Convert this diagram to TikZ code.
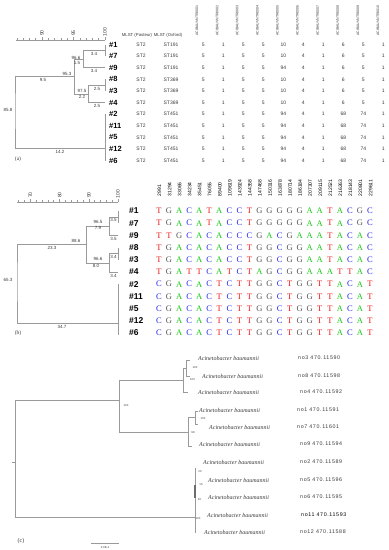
\documentclass[tikz,border=0pt]{standalone}
\usepackage{fontspec}
\setmainfont{Liberation Sans}
\newfontfamily\serifz{Liberation Serif}
\newfontfamily\spc[LetterSpace=12]{Liberation Sans}
\definecolor{treegray}{HTML}{9A9A9A}
\definecolor{labgray}{HTML}{3A3A3A}
\definecolor{colT}{HTML}{F01818}
\definecolor{colG}{HTML}{555555}
\definecolor{colA}{HTML}{18C818}
\definecolor{colC}{HTML}{2828F0}
\newcount\seqk
\makeatletter
\def\seqrow#1#2#3{\def\seqy{#2}\def\seqname{#1}\seqk=0 \seq@loop#3\@nil}
\def\seq@loop#1{%
  \ifx#1\@nil\else
    \node[basel,text=col#1] (\seqname-\the\seqk) at ({159+10.05*\the\seqk},\seqy) {#1};%
    \advance\seqk by 1
    \expandafter\seq@loop
  \fi}
\makeatother
\tikzset{
  ln/.style={draw=treegray, line width=0.6pt},
  bl/.style={font=\fontsize{4.5}{5}\selectfont, text=labgray, inner sep=0pt},
  tiny/.style={font=\fontsize{2.8}{3}\selectfont, text=labgray, inner sep=0pt},
  laba/.style={font=\fontsize{7.5}{8}\selectfont\bfseries, inner sep=0pt, anchor=west},
  labb/.style={font=\fontsize{8.5}{9}\selectfont\bfseries, inner sep=0pt, anchor=west},
  val/.style={font=\fontsize{5}{6}\selectfont, text=labgray, inner sep=0pt},
  hdr/.style={font=\fontsize{3.5}{4}\selectfont, text=labgray, inner sep=0pt, rotate=90, anchor=west},
  numh/.style={font=\fontsize{5}{6}\selectfont, inner sep=0pt, rotate=90, anchor=west},
  rul/.style={font=\fontsize{5}{6}\selectfont, text=labgray, inner sep=0pt, rotate=90},
  basel/.style={font=\serifz\fontsize{8.5}{9}\selectfont, inner sep=0pt},
  sp/.style={font=\serifz\itshape\fontsize{6}{7}\selectfont, text=labgray, inner sep=0pt, anchor=west},
  acc/.style={font=\spc\fontsize{5.3}{6}\selectfont, inner sep=0pt, anchor=west},
  pl/.style={font=\serifz\fontsize{5.5}{6}\selectfont, text=labgray, inner sep=0pt},
}
\begin{document}
\begin{tikzpicture}[x=1pt,y=-1pt]
\useasboundingbox[fill=white] (0,0) rectangle (389,550);

% ================= Panel (a) =================
\draw[ln] (16,40) -- (105,40);
\foreach \k in {0,...,14}{
  \pgfmathsetmacro\tl{ifthenelse(mod(\k,5)==0,3.5,2)}
  \draw[ln] ({105-6.3*\k},40) -- ++(0,-\tl);
}
\node[rul] (ra90) at (42,33) {90};
\node[rul] (ra95) at (73.5,33) {95};
\node[rul] (ra100) at (105,32) {100};

\node[val, font=\fontsize{4.3}{5}\selectfont] (mlp) at (137,35) {MLST (Pasteur)};
\node[val, font=\fontsize{4.3}{5}\selectfont] (mlo) at (168,35) {MLST (Oxford)};

\foreach \j in {1,...,10}{
  \node[hdr] (h\j) at ({197+20.1*(\j-1)},36) {ACIBAUVNTR00\ifnum\j<10 0\fi\j};
}

\foreach \lab/\st/\e/\h/\i [count=\r from 0] in
 {1/191/10/6/5, 7/191/10/6/5, 9/191/94/6/5, 8/369/10/6/5, 3/369/10/6/5, 4/369/10/6/5,
  2/451/94/68/74, 11/451/94/68/74, 5/451/94/68/74, 12/451/94/68/74, 6/451/94/68/74}{
  \pgfmathsetmacro\yy{44.5+11.6*\r}
  \coordinate (la\lab) at (105,\yy);
  \node[laba] (a\lab) at (109,\yy) {\#\lab};
  \node[val] (pa\lab) at (141,\yy) {ST2};
  \node[val] (ox\lab) at (171,\yy) {ST\st};
  \foreach \v [count=\jj from 0] in {5,1,5,5,\e,4,1,\h,\i,1}{
    \node[val] (v\lab-\jj) at ({203.3+20*\jj},\yy) {\v};
  }
}

% tree (a)
\coordinate (g17) at (105,50.3);
\coordinate (n1) at (83,59);
\coordinate (g83) at (105,85.1);
\coordinate (n2) at (88,93.8);
\coordinate (n3) at (74,76.4);
\coordinate (ra) at (15,110);
\coordinate (g5) at (105,148);
\draw[ln] (la1) -- (la7);
\draw[ln] (n1) |- (g17);
\draw[ln] (n1) |- (la9);
\draw[ln] (la8) -- (la3);
\draw[ln] (n2) |- (g83);
\draw[ln] (n2) |- (la4);
\draw[ln] (n3) |- (n1);
\draw[ln] (n3) |- (n2);
\draw[ln] (n3) -| (ra) |- (g5);
\draw[ln] (la2) -- (la6);

\node[bl] (a1) at (94,54) {3.4};
\node[bl] (a2) at (94,71) {3.4};
\node[bl] (a3) at (76,57.5) {96.6};
\node[bl] (a4) at (77,62.5) {1.5};
\node[bl] (a5) at (97,88.5) {2.5};
\node[bl] (a6) at (97,106) {2.5};
\node[bl] (a7) at (82,91) {97.5};
\node[bl] (a8) at (82,97) {2.2};
\node[bl] (a9) at (67,74) {95.3};
\node[bl] (a10) at (43,80) {9.5};
\node[bl] (a11) at (8,110) {85.8};
\node[bl] (a12) at (60,152) {14.2};
\node[pl] (pa) at (18,159) {(a)};

% ================= Panel (b) =================
\draw[ln] (17,202) -- (118,202);
\foreach \k in {0,...,17}{
  \pgfmathsetmacro\tl{ifthenelse(mod(\k,5)==0,3.5,2)}
  \draw[ln] ({118-5.84*\k},202) -- ++(0,-\tl);
}
\node[rul] (rb70) at (30.4,195) {70};
\node[rul] (rb80) at (59.6,195) {80};
\node[rul] (rb90) at (88.8,195) {90};
\node[rul] (rb100) at (118,194) {100};

\foreach \n [count=\k from 0] in {2991,31294,33065,34234,35451,76055,89400,109619,143924,144358,147468,150316,163878,180714,186184,207307,209115,212521,216263,218143,220801,229611}{
  \node[numh] (pos\k) at ({159.5+10.05*\k},196.5) {\n};
}

\foreach \lab [count=\r from 0] in {1,7,9,8,3,4,2,11,5,12,6}{
  \pgfmathsetmacro\yy{211+12.2*\r}
  \coordinate (lb\lab) at (118,\yy);
  \node[labb] (b\lab) at (129,\yy) {\#\lab};
}
\seqrow{s1}{211}{TGACATACCTGGGGGAATACGC}
\seqrow{s7}{223.2}{TGACATACCTGGGGGAATACGC}
\seqrow{s9}{235.4}{TTGCACACCCGACGAAATACAC}
\seqrow{s8}{247.6}{TGACACACCTGGCGGAATACAC}
\seqrow{s3}{259.8}{TGACACACCTGGCGGAATACAC}
\seqrow{s4}{272}{TGATTCATCTAGCGGAAATTAC}
\seqrow{s2}{284.2}{CGACACTCTTGGCTGGTTACAT}
\seqrow{s11}{296.4}{CGACACTCTTGGCTGGTTACAT}
\seqrow{s5}{308.6}{CGACACTCTTGGCTGGTTACAT}
\seqrow{s12}{320.8}{CGACACTCTTGGCTGGTTACAT}
\seqrow{s6}{333}{CGACACTCTTGGCTGGTTACAT}

% tree (b)
\coordinate (k17) at (118,217.1);
\coordinate (m1) at (109,226.3);
\coordinate (k83) at (118,253.7);
\coordinate (m2) at (109,262.9);
\coordinate (m3) at (86,244.6);
\coordinate (rb) at (17,280);
\coordinate (k5) at (118,323);
\coordinate (k5b) at (118,335);
\draw[ln] (lb1) -- (lb7);
\draw[ln] (m1) |- (k17);
\draw[ln] (m1) |- (lb9);
\draw[ln] (lb8) -- (lb3);
\draw[ln] (m2) |- (k83);
\draw[ln] (m2) |- (lb4);
\draw[ln] (m3) |- (m1);
\draw[ln] (m3) |- (m2);
\draw[ln] (m3) -| (rb) |- (k5);
\draw[ln] (lb2) -- (k5b);

\node[bl] (b1l) at (113.5,220) {3.5};
\node[bl] (b2l) at (113.5,238.5) {3.5};
\node[bl] (b3l) at (98,222) {96.5};
\node[bl] (b4l) at (98,228) {7.9};
\node[bl] (b5l) at (76,241) {88.6};
\node[bl] (b6l) at (52,247.5) {23.3};
\node[bl] (b7l) at (113.5,256.5) {3.4};
\node[bl] (b8l) at (113.5,275.5) {3.4};
\node[bl] (b9l) at (98,259) {96.6};
\node[bl] (b10l) at (96,265.5) {8.0};
\node[bl] (b11l) at (8,280) {65.3};
\node[bl] (b12l) at (62,326.5) {34.7};
\node[pl] (pb) at (18,333) {(b)};

% ================= Panel (c) =================
\foreach \lab/\acc/\xs/\xa/\yy/\cl in
 {3/11590/198/298/358/labgray, 8/11598/202/298/376/labgray, 4/11592/198/300/392/labgray,
  1/11591/199/297/410/labgray, 7/11601/209/297/427/labgray, 9/11594/199/300/444/labgray,
  2/11589/203/300/462/labgray, 5/11596/208/300/480/labgray, 6/11595/208/300/497/labgray,
  11/11593/207/301/515/black, 12/11588/204/300/532/labgray}{
  \node[sp] (sp\lab) at (\xs,\yy) {Acinetobacter baumannii};
  \node[acc, text=\cl] (ac\lab) at (\xa,\yy) {no\lab\ 470.\acc};
}

\coordinate (t3) at (190,360);
\coordinate (t8) at (190,376);
\coordinate (t4) at (188,392);
\coordinate (t1) at (198,411);
\coordinate (t7) at (198,424);
\coordinate (t9) at (192,446);
\coordinate (c38) at (186,368);
\coordinate (c384) at (183,380);
\coordinate (c17) at (195,417.5);
\coordinate (c179) at (188,432);
\coordinate (cA) at (119,400);
\coordinate (cB) at (195,517);
\coordinate (cBt) at (195,468);
\coordinate (cBb) at (195,533);
\coordinate (cBm1) at (195,485);
\coordinate (cBm2) at (195,498);
\coordinate (rc) at (15,462);
\coordinate (rcs) at (12,462);

\draw[ln] (c38) |- (t3);
\draw[ln] (c38) |- (t8);
\draw[ln] (c384) |- (c38);
\draw[ln] (c384) |- (t4);
\draw[ln] (c17) |- (t1);
\draw[ln] (c17) |- (t7);
\draw[ln] (c179) |- (c17);
\draw[ln] (c179) |- (t9);
\draw[ln] (cA) |- (c384);
\draw[ln] (cA) |- (c179);
\draw[ln] (rc) |- (cA);
\draw[ln] (rc) |- (cB);
\draw[ln] (rc) -- (rcs);
\draw[ln] (cBt) -- (cBb);
\draw[draw=treegray!70!black, line width=1.2pt] (cBm1) -- (cBm2);

\node[tiny] (l1) at (195,368) {100};
\node[tiny] (l2) at (192.5,379.5) {100};
\node[tiny] (l3) at (203,419) {100};
\node[tiny] (l4) at (193,433) {98};
\node[tiny] (l5) at (126,406) {100};
\node[tiny] (l6) at (200,472) {20};
\node[tiny] (l7) at (201,485) {15};
\node[tiny] (l8) at (199.5,500) {20};
\node[tiny] (l9) at (198,518.5) {100};

\coordinate (sb1) at (91,543);
\coordinate (sb2) at (119,543);
\draw[ln] (sb1) -- (sb2);
\node[tiny] (sbl) at (105,547.5) {2.0E-4};
\node[pl, font=\serifz\fontsize{6}{7}\selectfont] (pc) at (21,541) {(c)};
\end{tikzpicture}
\end{document}
